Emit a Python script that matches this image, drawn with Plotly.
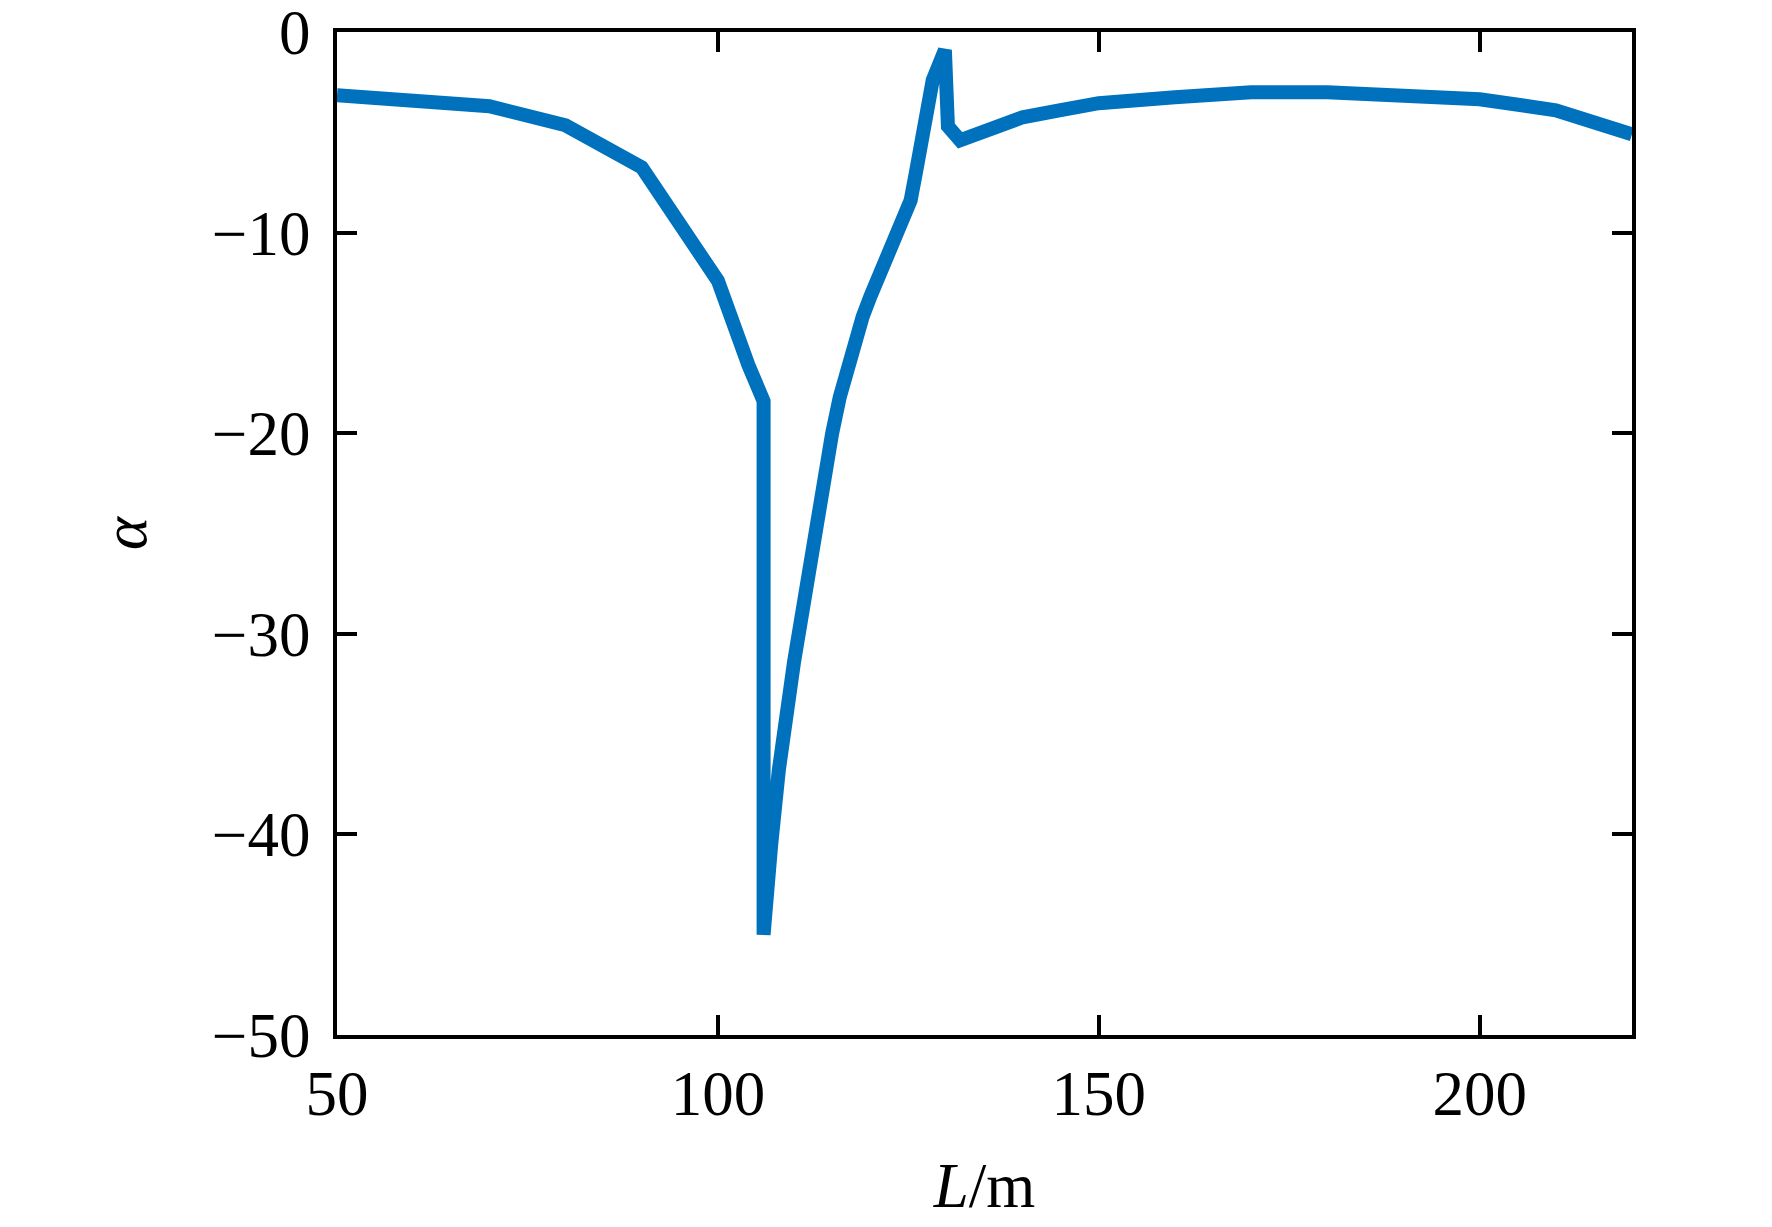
import plotly.graph_objects as go

# L (m) and alpha
L = [50, 60, 70, 80, 90, 100, 102, 104, 106, 106,
     107, 108, 110, 112, 114, 115, 116, 117, 118, 119,
     120, 122, 124, 125.3, 126, 127, 128.2, 129.8, 130.2, 131.8,
     134, 136, 138.7, 140, 145, 150, 160, 170, 180, 190,
     200, 210, 220]
alpha = [-3.15, -3.35, -3.7, -4.65, -6.75, -12.4, -14.6, -16.6, -18.4, -45.0,
         -40.5, -36.8, -31.4, -26.6, -22.2, -20.0, -18.2, -16.7, -15.4, -14.2,
         -13.2, -11.3, -9.4, -8.4, -7.0, -4.6, -2.4, -0.9, -4.7, -5.4,
         -5.1, -4.75, -4.4, -4.25, -3.9, -3.55, -3.25, -3.0, -3.0, -3.1,
         -3.35, -3.9, -5.1]

fig = go.Figure()
fig.add_trace(go.Scatter(x=L, y=alpha, mode="lines",
                         line=dict(color="#0072BD", width=14),
                         showlegend=False))

axis_style = dict(showgrid=False, zeroline=False, automargin=False,
                  ticklabeloverflow="allow",
                  showline=True, linecolor="black", linewidth=4,
                  mirror="ticks", ticks="inside", ticklen=20, tickwidth=4,
                  tickcolor="black",
                  tickfont=dict(family="Liberation Serif", size=63, color="black"))

fig.update_xaxes(range=[50, 220], dtick=50, tick0=50, ticklabelstandoff=0,
                 title=dict(text="<i>L</i>/m", standoff=36,
                            font=dict(family="Liberation Serif", size=63, color="black")),
                 **axis_style)
fig.update_yaxes(range=[-50, 0], dtick=10, ticklabelstandoff=10,
                 title=dict(text="<i>α</i>", standoff=46,
                            font=dict(family="Liberation Serif", size=63, color="black")),
                 **axis_style)

# page body adds ~8px offset, so margins are trimmed on the top/left
fig.update_layout(width=1772, height=1227,
                  margin=dict(l=329, r=148, t=24, b=200),
                  plot_bgcolor="white", paper_bgcolor="white")

fig.write_html("out.html")
